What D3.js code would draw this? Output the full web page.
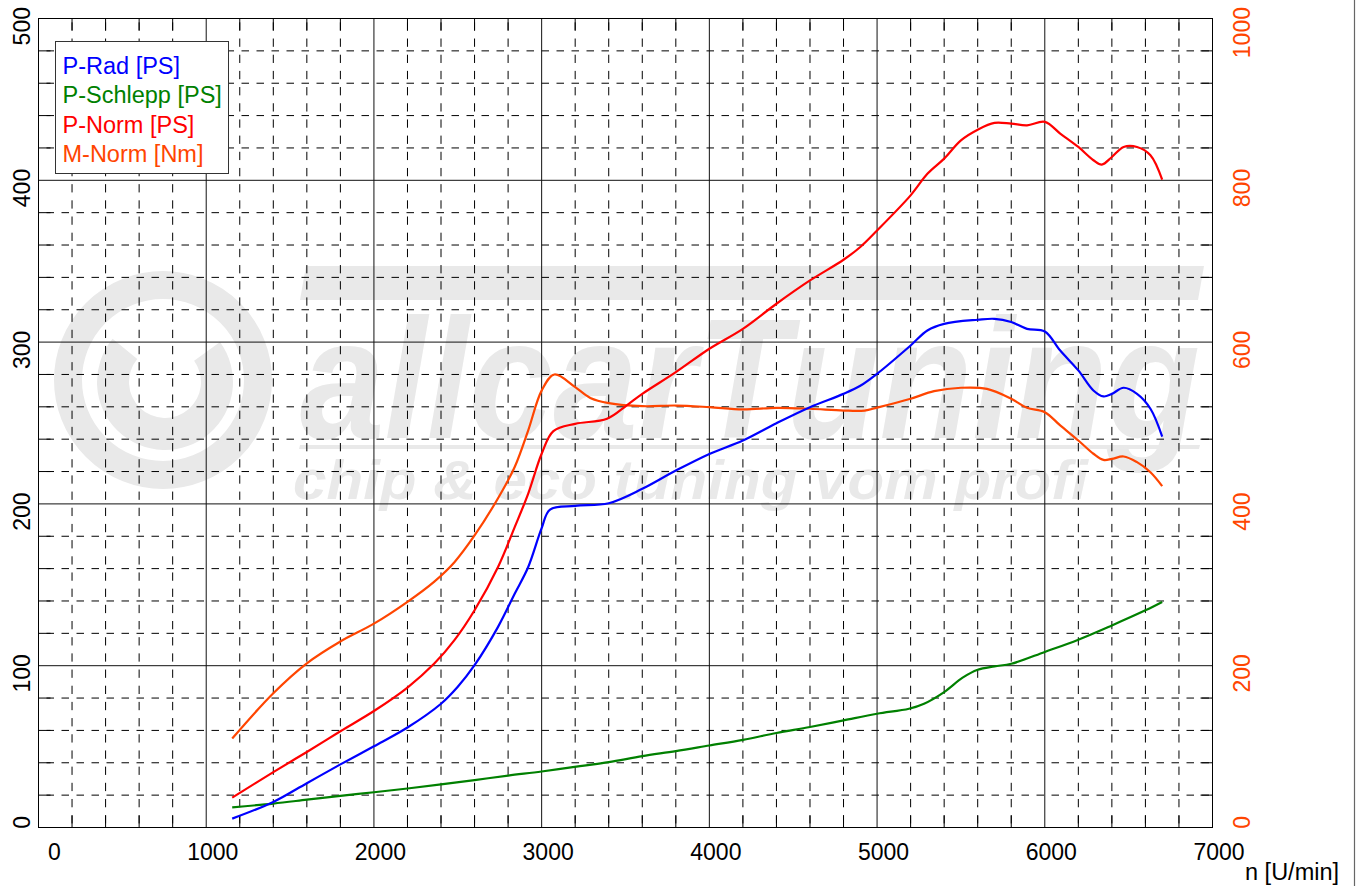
<!DOCTYPE html>
<html>
<head>
<meta charset="utf-8">
<script src="https://cdn.jsdelivr.net/npm/d3@7/dist/d3.min.js"></script>
<style>
html,body{margin:0;padding:0;background:#fff;}
svg{display:block;font-family:"Liberation Sans",Arial,Helvetica,sans-serif;}
</style>
</head>
<body>
<svg id="chart" width="1356" height="886"></svg>
<script>
// ---------- data ----------
const xTickValues = [0,1000,2000,3000,4000,5000,6000,7000];
const leftTickValues = [0,100,200,300,400,500];
const rightTickValues = [0,200,400,600,800,1000];
const seriesNames = ["P-Rad [PS]","P-Schlepp [PS]","P-Norm [PS]","M-Norm [Nm]"];
const seriesColors = ["#0000ff","#008000","#ff0000","#ff4500"];
const xTitle = "n [U/min]";

const pRad = [[1155,5.5],[1400,15.8],[1600,27.4],[1800,39],[2000,50.2],[2200,61.8],[2400,76.5],[2500,87],[2600,100.3],[2740,124],[2840,144.6],[2920,161],[3000,185],[3050,196.5],[3200,198.8],[3400,200.4],[3600,209.3],[3800,220.6],[4000,230.9],[4200,239.2],[4400,249.9],[4600,259.8],[4800,268],[4900,273],[5000,280.4],[5200,297.9],[5300,307.2],[5400,311.3],[5600,313.8],[5700,314.4],[5800,312.4],[5894,308.2],[6000,306.6],[6092,294.8],[6200,282.5],[6290,270.1],[6350,266.4],[6400,268],[6470,271.8],[6550,268],[6630,258.8],[6700,241.6]];
const pSchlepp = [[1155,12.4],[1400,14.8],[1600,17.2],[1800,19.6],[2000,21.8],[2200,24.1],[2400,26.6],[2600,29.3],[2800,32.1],[3000,34.6],[3228,37.9],[3400,40.4],[3600,44.1],[3800,47.2],[4000,50.7],[4200,54.2],[4400,58.4],[4600,62.1],[4800,66.2],[5000,70.3],[5190,73.4],[5280,76.5],[5400,83.7],[5510,92.6],[5600,97.5],[5700,99.6],[5800,101.2],[6000,108.5],[6200,116.1],[6400,124.9],[6600,134.2],[6700,139.4]];
const pNorm = [[1155,18.5],[1400,34.2],[1600,46.7],[1800,59.5],[2000,72],[2200,86.5],[2360,101.3],[2480,115.8],[2600,134.3],[2740,161],[2840,185.8],[2920,206.4],[3000,231],[3070,245],[3200,249.5],[3390,252.6],[3506,260.8],[3600,268],[3800,281.4],[4000,295.9],[4200,308.2],[4400,323.7],[4600,338.1],[4800,350.9],[4900,358.8],[5000,369],[5200,390.7],[5300,404],[5400,413.4],[5500,424.7],[5600,431.3],[5700,435.5],[5800,435],[5894,434],[6000,436.1],[6092,428.9],[6200,420.6],[6290,412.4],[6340,409.7],[6400,414.4],[6470,420.6],[6550,420.6],[6630,415.5],[6700,400.4]];
const mNorm = [[1155,110],[1400,166],[1600,203],[1800,230],[2000,252],[2200,279],[2360,304],[2480,328],[2600,361],[2740,407],[2840,446],[2920,491],[3000,540],[3076,560],[3196,545],[3290,531],[3400,524.6],[3600,520.8],[3800,521.6],[4000,519.6],[4200,516.8],[4400,518.8],[4600,517.6],[4800,515.4],[4926,515.4],[5000,519],[5200,530],[5340,539.4],[5500,543.6],[5655,542.2],[5800,530],[5894,518.8],[6000,513.4],[6092,497],[6200,478.4],[6290,462],[6350,454.4],[6400,455.6],[6470,458.6],[6550,451.6],[6630,439.2],[6700,422]];

// ---------- scales ----------
const L = 38.5, R = 1212.5, T = 18.5, B = 827.5;
const x = d3.scaleLinear().domain([0,7000]).range([L,R]);
const yL = d3.scaleLinear().domain([0,500]).range([B,T]);
const yR = d3.scaleLinear().domain([0,1000]).range([B,T]);

const svg = d3.select("#chart");

// right image frame line
svg.append("line").attr("x1",1354.5).attr("x2",1354.5).attr("y1",0).attr("y2",886)
  .attr("stroke","#666").attr("stroke-width",1.2);

// ---------- watermark ----------
const wm = svg.append("g").attr("fill","#e9e9e9");
wm.append("circle").attr("cx",163).attr("cy",380).attr("r",95)
  .attr("fill","none").attr("stroke","#e9e9e9").attr("stroke-width",28);
const cArc = d3.arc().innerRadius(36).outerRadius(68)
  .startAngle(Math.PI*0.3).endAngle(Math.PI*1.72);
wm.append("path").attr("d",cArc()).attr("transform","translate(165,382)");
wm.append("path").attr("d","M306,266 L1204,266 L1198,300 L300,300 Z");
wm.append("path").attr("d","M300,445 L1200,445 L1199,449 L299,449 Z");
wm.append("text").attr("x",300).attr("y",438)
  .attr("font-size",170).attr("font-weight","bold").attr("font-style","italic")
  .attr("textLength",900).attr("lengthAdjust","spacingAndGlyphs")
  .text("allcarTuning");
wm.append("text").attr("x",293).attr("y",499)
  .attr("font-size",56).attr("font-weight","bold").attr("font-style","italic")
  .attr("textLength",795).attr("lengthAdjust","spacingAndGlyphs")
  .text("chip & eco tuning vom profi");

// ---------- grid ----------
const grid = svg.append("g");
const minorX = d3.range(200,7000,200).filter(v => v % 1000 !== 0);
const majorX = d3.range(1000,7000,1000);
const minorY = d3.range(20,500,20).filter(v => v % 100 !== 0);
const majorY = d3.range(100,500,100);
const hs = (yL(0)-yL(20))/2;

grid.selectAll(".vminor").data(minorX).enter().append("line")
  .attr("x1",d=>x(d)).attr("x2",d=>x(d)).attr("y1",B).attr("y2",T)
  .attr("stroke","#000").attr("stroke-width",1)
  .attr("stroke-dasharray",`${hs/2+0.2},${hs/2-0.2}`).attr("stroke-dashoffset",hs/2+hs/4);
grid.selectAll(".hminor").data(minorY).enter().append("line")
  .attr("x1",L).attr("x2",R).attr("y1",d=>yL(d)).attr("y2",d=>yL(d))
  .attr("stroke","#000").attr("stroke-width",1)
  .attr("stroke-dasharray","7.5,7.5").attr("stroke-dashoffset",-8);
grid.selectAll(".vmajor").data(majorX).enter().append("line")
  .attr("x1",d=>x(d)).attr("x2",d=>x(d)).attr("y1",B).attr("y2",T)
  .attr("stroke","#111").attr("stroke-width",1);
grid.selectAll(".hmajor").data(majorY).enter().append("line")
  .attr("x1",L).attr("x2",R).attr("y1",d=>yL(d)).attr("y2",d=>yL(d))
  .attr("stroke","#111").attr("stroke-width",1);
const tl = 12;
minorX.forEach(v=>{
  grid.append("line").attr("x1",x(v)).attr("x2",x(v)).attr("y1",T).attr("y2",T+tl).attr("stroke","#000");
  grid.append("line").attr("x1",x(v)).attr("x2",x(v)).attr("y1",B).attr("y2",B-tl).attr("stroke","#000");
});
minorY.forEach(v=>{
  grid.append("line").attr("x1",L).attr("x2",L+tl).attr("y1",yL(v)).attr("y2",yL(v)).attr("stroke","#000");
  grid.append("line").attr("x1",R).attr("x2",R-tl).attr("y1",yL(v)).attr("y2",yL(v)).attr("stroke","#000");
});
grid.append("rect").attr("x",L).attr("y",T).attr("width",R-L).attr("height",B-T)
  .attr("fill","none").attr("stroke","#000").attr("stroke-width",1);

// ---------- curves ----------
const curve = d3.curveCatmullRom.alpha(0.5);
const lineL = d3.line().x(d=>x(d[0])).y(d=>yL(d[1])).curve(curve);
const lineR = d3.line().x(d=>x(d[0])).y(d=>yR(d[1])).curve(curve);
const curves = svg.append("g").attr("fill","none").attr("stroke-width",2.2)
  .attr("stroke-linejoin","round");
curves.append("path").attr("d",lineL(pSchlepp)).attr("stroke",seriesColors[1]);
curves.append("path").attr("d",lineR(mNorm)).attr("stroke",seriesColors[3]);
curves.append("path").attr("d",lineL(pRad)).attr("stroke",seriesColors[0]);
curves.append("path").attr("d",lineL(pNorm)).attr("stroke",seriesColors[2]);

// ---------- axis labels ----------
const ax = svg.append("g").attr("font-size",23);
ax.selectAll(".xl").data(xTickValues).enter().append("text")
  .attr("x",d=>x(d) + (d===0 ? 16 : 6.5)).attr("y",860)
  .attr("text-anchor","middle").attr("fill","#000").text(d=>d);
ax.selectAll(".yl").data(leftTickValues).enter().append("text")
  .attr("transform",d=>`translate(30,${yL(d)-11.5}) rotate(-90)`)
  .attr("text-anchor","end").attr("fill","#000").text(d=>d);
ax.selectAll(".yr").data(rightTickValues).enter().append("text")
  .attr("transform",d=>`translate(1250,${yR(d)-11.5}) rotate(-90)`)
  .attr("text-anchor","end").attr("fill",seriesColors[3]).text(d=>d);
svg.append("text").attr("x",1245).attr("y",880).attr("font-size",23.5)
  .attr("fill","#000").text(xTitle);

// ---------- legend ----------
const lg = svg.append("g");
lg.append("rect").attr("x",55.5).attr("y",41.5).attr("width",173).attr("height",132)
  .attr("fill","#fff").attr("stroke","#333").attr("stroke-width",1);
lg.selectAll("text").data(seriesNames).enter().append("text")
  .attr("x",62.5).attr("y",(d,i)=>74 + i*29.4).attr("font-size",23.5)
  .attr("fill",(d,i)=>seriesColors[i]).text(d=>d);
</script>
</body>
</html>
